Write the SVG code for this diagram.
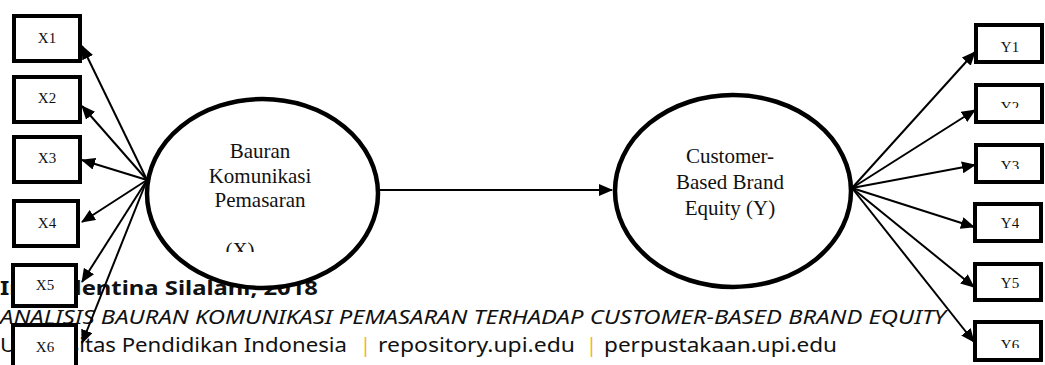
<svg xmlns="http://www.w3.org/2000/svg" width="1045" height="365" viewBox="0 0 1045 365">
<style>
.box{fill:#fff;stroke:#000;stroke-width:4}
.ell{fill:#fff;stroke:#000;stroke-width:4.5}
.lbl{font-family:"Liberation Serif","Times New Roman",serif;font-size:15px;fill:#111;text-anchor:middle}
.big{font-family:"Liberation Serif","Times New Roman",serif;font-size:21px;fill:#111;text-anchor:middle}
.con{stroke:#000;stroke-width:2;fill:none;marker-end:url(#ah)}
.ft{font-family:"Noto Sans","DejaVu Sans",sans-serif;fill:#111}
.pipe{fill:#f2b51c}
</style>
<defs>
<marker id="ah" markerUnits="userSpaceOnUse" markerWidth="14" markerHeight="12" refX="13" refY="6" orient="auto">
<path d="M0,0 L14,6 L0,12 Z" fill="#000"/>
</marker>
<clipPath id="cX"><rect x="200" y="230" width="80" height="22"/></clipPath>
<clipPath id="cY2"><rect x="980" y="90" width="60" height="18"/></clipPath>
<clipPath id="cY3"><rect x="980" y="150" width="60" height="19"/></clipPath>
<clipPath id="cY6"><rect x="980" y="326" width="60" height="22"/></clipPath>
</defs>
<rect width="1045" height="365" fill="#fff"/>
<g id="footer">
<text class="ft" x="0" y="295" font-size="20" font-weight="bold" textLength="318" lengthAdjust="spacingAndGlyphs">Ina Valentina Silalahi, 2018</text>
<text class="ft" x="0" y="324" font-size="19" font-style="italic" textLength="946" lengthAdjust="spacingAndGlyphs">ANALISIS BAURAN KOMUNIKASI PEMASARAN TERHADAP CUSTOMER-BASED BRAND EQUITY</text>
<text class="ft" x="0" y="352" font-size="20" textLength="347" lengthAdjust="spacingAndGlyphs">Universitas Pendidikan Indonesia</text>
<text class="ft pipe" x="360" y="352" font-size="20">|</text>
<text class="ft" x="378" y="352" font-size="20" textLength="197" lengthAdjust="spacingAndGlyphs">repository.upi.edu</text>
<text class="ft pipe" x="586" y="352" font-size="20">|</text>
<text class="ft" x="604" y="352" font-size="20" textLength="233" lengthAdjust="spacingAndGlyphs">perpustakaan.upi.edu</text>
</g>
<g id="connectors">
<line class="con" x1="147" y1="180" x2="82" y2="46"/>
<line class="con" x1="147" y1="180" x2="82" y2="106"/>
<line class="con" x1="147" y1="180" x2="82" y2="160"/>
<line class="con" x1="147" y1="180" x2="82" y2="222"/>
<line class="con" x1="147" y1="180" x2="82" y2="282"/>
<line class="con" x1="147" y1="180" x2="82" y2="343"/>
<line class="con" x1="380" y1="190" x2="612" y2="190"/>
<line class="con" x1="852" y1="188" x2="975" y2="52"/>
<line class="con" x1="852" y1="188" x2="975" y2="110"/>
<line class="con" x1="852" y1="188" x2="975" y2="165"/>
<line class="con" x1="852" y1="188" x2="974" y2="227"/>
<line class="con" x1="852" y1="188" x2="974" y2="287"/>
<line class="con" x1="852" y1="188" x2="974" y2="342"/>
</g>
<g id="bauran">
<ellipse class="ell" cx="262.5" cy="193.5" rx="115.5" ry="94.5"/>
<text class="big" x="260" y="158">Bauran</text>
<text class="big" x="260" y="183">Komunikasi</text>
<text class="big" x="260" y="207">Pemasaran</text>
<text class="big" x="240" y="257" clip-path="url(#cX)">(X)</text>
</g>
<g id="cbbe">
<ellipse class="ell" cx="733" cy="191" rx="118" ry="96"/>
<text class="big" x="730" y="163">Customer-</text>
<text class="big" x="730" y="189">Based Brand</text>
<text class="big" x="730" y="215">Equity (Y)</text>
</g>
<g id="x1"><rect class="box" x="14" y="16" width="66" height="45"/><text class="lbl" x="47" y="43">X1</text></g>
<g id="x2"><rect class="box" x="14" y="77" width="66" height="45"/><text class="lbl" x="47" y="103">X2</text></g>
<g id="x3"><rect class="box" x="14" y="137" width="66" height="45"/><text class="lbl" x="47" y="163">X3</text></g>
<g id="x4"><rect class="box" x="14" y="201" width="64" height="45"/><text class="lbl" x="47" y="228">X4</text></g>
<g id="x5"><rect class="box" x="13" y="265" width="63" height="41"/><text class="lbl" x="45" y="290">X5</text></g>
<g id="x6"><rect class="box" x="13" y="325" width="63" height="45"/><text class="lbl" x="45" y="352">X6</text></g>
<g id="y1"><rect class="box" x="976" y="25" width="66" height="37"/><text class="lbl" x="1010" y="52" font-size="14">Y1</text></g>
<g id="y2"><rect class="box" x="976" y="85" width="66" height="37"/><text class="lbl" x="1010" y="112" font-size="14" clip-path="url(#cY2)">Y2</text></g>
<g id="y3"><rect class="box" x="976" y="145" width="66" height="37"/><text class="lbl" x="1010" y="171" font-size="14" clip-path="url(#cY3)">Y3</text></g>
<g id="y4"><rect class="box" x="975" y="204" width="66" height="37"/><text class="lbl" x="1010" y="228" font-size="14">Y4</text></g>
<g id="y5"><rect class="box" x="975" y="264" width="66" height="36"/><text class="lbl" x="1010" y="288" font-size="14">Y5</text></g>
<g id="y6"><rect class="box" x="975" y="322" width="66" height="38"/><text class="lbl" x="1010" y="350" font-size="14" clip-path="url(#cY6)">Y6</text></g>
</svg>
